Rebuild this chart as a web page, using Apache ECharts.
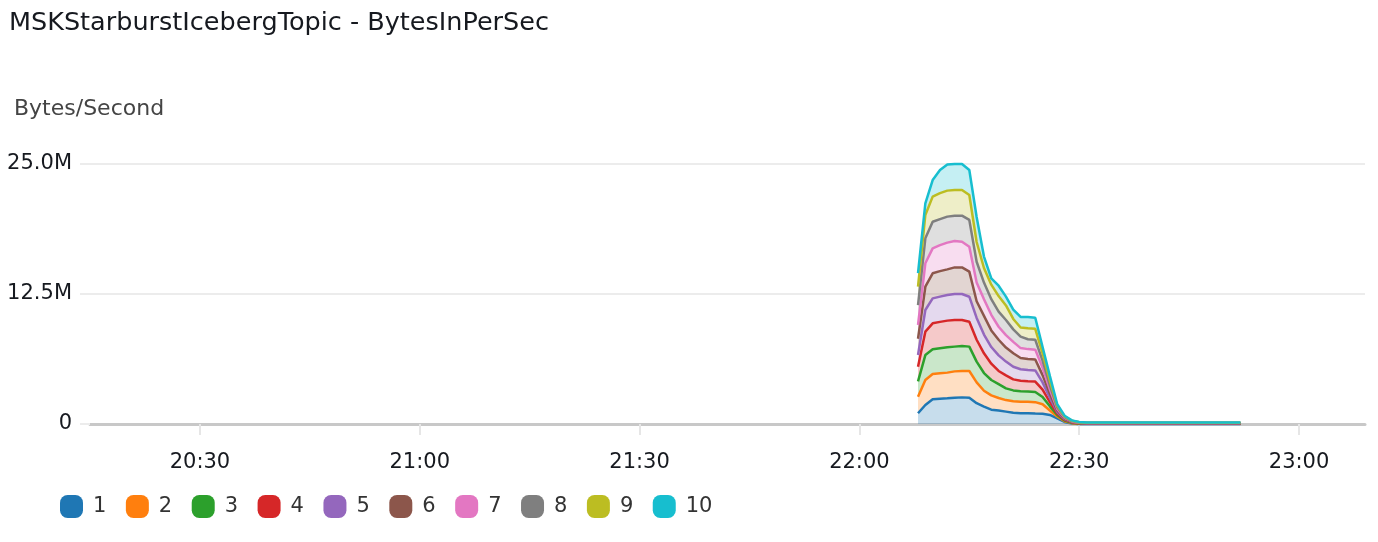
<!DOCTYPE html>
<html>
<head>
<meta charset="utf-8">
<script src="https://cdn.jsdelivr.net/npm/echarts@6/dist/echarts.min.js"></script>
<style>
  html, body { margin: 0; padding: 0; background: #ffffff; }
  #chart { width: 1378px; height: 542px; }
</style>
</head>
<body>
<div id="chart"></div>
<script>
// ---- Data (values in millions of bytes/second) ----
const titleText = 'MSKStarburstIcebergTopic - BytesInPerSec';
const unitText = 'Bytes/Second';
const seriesNames = ['1', '2', '3', '4', '5', '6', '7', '8', '9', '10'];
const seriesColors = ['#1f77b4', '#ff7f0e', '#2ca02c', '#d62728', '#9467bd', '#8c564b', '#e377c2', '#7f7f7f', '#bcbd22', '#17becf'];

const times = ['22:08','22:09','22:10','22:11','22:12','22:13','22:14','22:15','22:16','22:17',
               '22:18','22:19','22:20','22:21','22:22','22:23','22:24','22:25','22:26','22:27',
               '22:28','22:29','22:30','22:31','22:32','22:33','22:34','22:35','22:36','22:37',
               '22:38','22:39','22:40','22:41','22:42','22:43','22:44','22:45','22:46','22:47',
               '22:48','22:49','22:50','22:51','22:52'];

const s1  = [1.03,1.83,2.37,2.42,2.47,2.53,2.56,2.53,2.0,1.67,1.38,1.29,1.19,1.09,1.04,1.03,1.0,0.98,0.87,0.55,0.2,0.05,0.01,
             0.005,0.005,0.005,0.005,0.005,0.005,0.005,0.005,0.005,0.005,0.005,0.005,0.005,0.005,0.005,0.005,0.005,0.005,0.005,0.005,0.005,0.005];
const s2  = [1.6,2.4,2.44,2.46,2.47,2.53,2.54,2.57,2.0,1.53,1.37,1.21,1.11,1.09,1.09,1.1,1.1,0.92,0.43,0.17,0.07,0.03,0.02,
             0.015,0.015,0.015,0.015,0.015,0.015,0.015,0.015,0.015,0.015,0.015,0.015,0.015,0.015,0.015,0.015,0.015,0.015,0.015,0.015,0.015,0.015];
const s3  = [1.47,2.4,2.37,2.4,2.43,2.38,2.4,2.34,2.0,1.7,1.48,1.33,1.13,1.05,1.02,0.99,0.98,0.7,0.4,0.15,0.06,0.04,0.02,
             0.015,0.015,0.015,0.015,0.015,0.015,0.015,0.015,0.015,0.015,0.015,0.015,0.015,0.015,0.015,0.015,0.015,0.015,0.015,0.015,0.015,0.015];
const s4  = [1.41,2.25,2.5,2.54,2.57,2.56,2.5,2.4,2.1,1.9,1.57,1.27,1.24,1.06,1.0,0.98,1.0,0.7,0.4,0.13,0.07,0.03,0.02,
             0.015,0.015,0.015,0.015,0.015,0.015,0.015,0.015,0.015,0.015,0.015,0.015,0.015,0.015,0.015,0.015,0.015,0.015,0.015,0.015,0.015,0.015];
const s5  = [1.12,2.08,2.4,2.43,2.46,2.5,2.5,2.4,2.1,1.8,1.6,1.5,1.33,1.21,1.12,1.1,1.07,0.7,0.4,0.15,0.07,0.03,0.02,
             0.015,0.015,0.015,0.015,0.015,0.015,0.015,0.015,0.015,0.015,0.015,0.015,0.015,0.015,0.015,0.015,0.015,0.015,0.015,0.015,0.015,0.015];
const s6  = [1.57,2.24,2.41,2.45,2.47,2.56,2.56,2.41,1.6,1.8,1.6,1.5,1.35,1.3,1.08,1.05,1.05,0.7,0.4,0.15,0.06,0.03,0.02,
             0.015,0.015,0.015,0.015,0.015,0.015,0.015,0.015,0.015,0.015,0.015,0.015,0.015,0.015,0.015,0.015,0.015,0.015,0.015,0.015,0.015,0.015];
const s7  = [1.32,2.25,2.4,2.5,2.57,2.54,2.47,2.4,1.8,1.6,1.5,1.25,1.2,1.1,0.95,0.95,0.95,0.7,0.4,0.15,0.07,0.04,0.02,
             0.015,0.015,0.015,0.015,0.015,0.015,0.015,0.015,0.015,0.015,0.015,0.015,0.015,0.015,0.015,0.015,0.015,0.015,0.015,0.015,0.015,0.015];
const s8  = [1.92,2.4,2.56,2.5,2.5,2.43,2.5,2.57,2.0,1.6,1.5,1.45,1.45,1.2,1.1,0.95,0.95,0.7,0.4,0.15,0.07,0.03,0.02,
             0.015,0.015,0.015,0.015,0.015,0.015,0.015,0.015,0.015,0.015,0.015,0.015,0.015,0.015,0.015,0.015,0.015,0.015,0.015,0.015,0.015,0.015];
const s9  = [1.76,2.25,2.41,2.5,2.5,2.47,2.47,2.4,1.9,1.4,1.4,1.5,1.4,1.0,0.88,1.05,1.05,0.7,0.45,0.15,0.06,0.03,0.02,
             0.015,0.015,0.015,0.015,0.015,0.015,0.015,0.015,0.015,0.015,0.015,0.015,0.015,0.015,0.015,0.015,0.015,0.015,0.015,0.015,0.015,0.015];
const s10 = [1.3,1.12,1.6,2.22,2.51,2.5,2.5,2.4,2.4,1.1,0.6,1.0,0.85,0.9,1.02,1.08,1.07,0.6,0.45,0.15,0.07,0.04,0.03,
             0.015,0.015,0.015,0.015,0.015,0.015,0.015,0.015,0.015,0.015,0.015,0.015,0.015,0.015,0.015,0.015,0.015,0.015,0.015,0.015,0.015,0.015];

const xTickLabels = ['20:30', '21:00', '21:30', '22:00', '22:30', '23:00'];
const xRange = ['20:15', '23:09'];

// ---- Build ----
const allSeries = [s1, s2, s3, s4, s5, s6, s7, s8, s9, s10];
function toMin(t) { const p = t.split(':'); return (+p[0]) * 60 + (+p[1]); }
function toHHMM(m) { const h = Math.floor(m / 60), mm = Math.round(m % 60); return String(h).padStart(2, '0') + ':' + String(mm).padStart(2, '0'); }
const tickMins = xTickLabels.map(toMin);
const FONT = 'DejaVu Sans';

const chart = echarts.init(document.getElementById('chart'), null, { renderer: 'canvas' });
const roundSquare = 'path://M8,0H16A8,8,0,0,1,24,8V16A8,8,0,0,1,16,24H8A8,8,0,0,1,0,16V8A8,8,0,0,1,8,0Z';

chart.setOption({
  animation: false,
  backgroundColor: '#ffffff',
  textStyle: { fontFamily: FONT },
  title: [
    { text: titleText, left: 9, top: 10, padding: 0,
      textStyle: { fontFamily: FONT, fontSize: 25.5, fontWeight: 'normal', color: '#16191f' } },
    { text: unitText, left: 14, top: 98, padding: 0,
      textStyle: { fontFamily: FONT, fontSize: 22, fontWeight: 'normal', color: '#444444' } }
  ],
  legend: {
    left: 60, top: 495, padding: 0,
    itemWidth: 23, itemHeight: 23, itemGap: 19.5,
    icon: roundSquare,
    textStyle: { fontFamily: FONT, fontSize: 21, color: '#333333', padding: [0, 0, 0, 5] },
    data: seriesNames
  },
  grid: { left: 90, right: 13, top: 164, bottom: 118, containLabel: false },
  xAxis: {
    type: 'value',
    min: toMin(xRange[0]), max: toMin(xRange[1]),
    axisLine: { show: true, lineStyle: { color: '#c8c8c8', width: 3 } },
    axisTick: { show: true, customValues: tickMins, length: 11, lineStyle: { color: '#e6e6e6', width: 2 } },
    axisLabel: { customValues: tickMins, formatter: v => toHHMM(v), margin: 28,
      fontFamily: FONT, fontSize: 21, color: '#16191f' },
    splitLine: { show: false }
  },
  yAxis: {
    type: 'value', min: 0, max: 25, interval: 12.5,
    axisLine: { show: false },
    axisTick: { show: true, length: 10, lineStyle: { color: '#ececec', width: 2 } },
    axisLabel: { margin: 18, fontFamily: FONT, fontSize: 21, color: '#16191f',
      formatter: v => v === 0 ? '0' : v.toFixed(1) + 'M' },
    splitLine: { show: true, lineStyle: { color: '#ececec', width: 2 } }
  },
  series: allSeries.map((arr, i) => ({
    name: seriesNames[i],
    type: 'line',
    stack: 'total',
    symbol: 'none',
    showSymbol: false,
    clip: false,
    color: seriesColors[i],
    lineStyle: { width: 2.5, color: seriesColors[i] },
    areaStyle: { color: seriesColors[i], opacity: 0.25 },
    dimensions: ['value', 'time'],
    encode: { x: 1, y: 0 },
    data: times.map((t, j) => [arr[j], toMin(t)])
  }))
});
</script>
</body>
</html>
